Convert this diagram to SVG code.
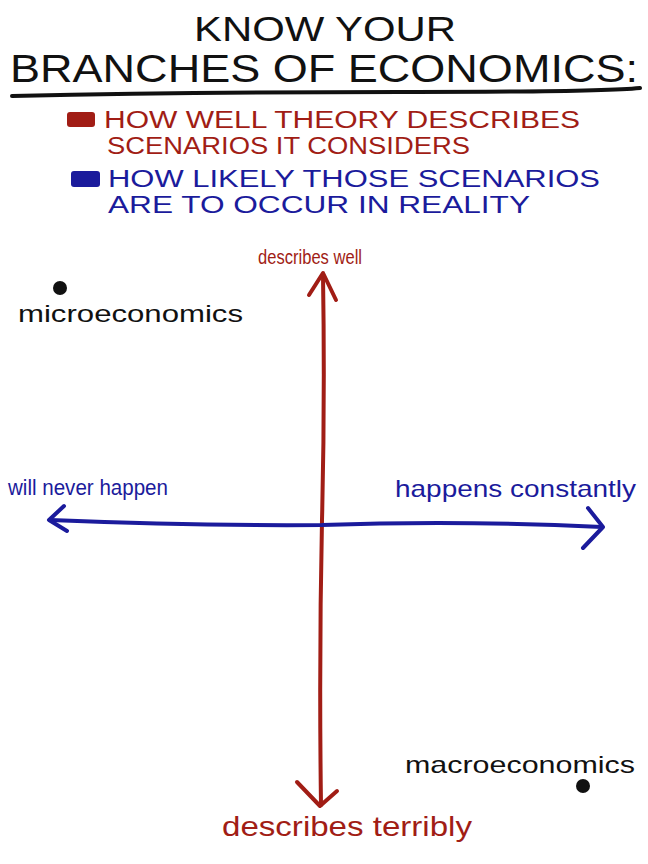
<svg xmlns="http://www.w3.org/2000/svg" width="648" height="864" viewBox="0 0 648 864">
<style>
.t{font-family:"Liberation Sans","DejaVu Sans",sans-serif}
.blk{fill:#111}
.red{fill:#a11d15}
.blu{fill:#1b1b9c}
.ln{fill:none;stroke-linecap:round;stroke-linejoin:round}
</style>
<rect width="648" height="864" fill="#fff"/>
<g id="title">
<text class="t blk" x="325" y="41" font-size="35" text-anchor="middle" textLength="262" lengthAdjust="spacingAndGlyphs">KNOW YOUR</text>
<text class="t blk" x="10" y="82" font-size="38" textLength="628" lengthAdjust="spacingAndGlyphs">BRANCHES OF ECONOMICS:</text>
<path class="ln" d="M12 96 Q200 92 400 92 T640 88" stroke="#111" stroke-width="4"/>
</g>
<g id="legend">
<rect x="67" y="112" width="28" height="15" rx="3" fill="#a11d15"/>
<text class="t red" x="104" y="128" font-size="23" textLength="476" lengthAdjust="spacingAndGlyphs">HOW WELL THEORY DESCRIBES</text>
<text class="t red" x="107" y="154" font-size="23" textLength="363" lengthAdjust="spacingAndGlyphs">SCENARIOS IT CONSIDERS</text>
<rect x="71" y="171" width="29" height="16" rx="3" fill="#1b1b9c"/>
<text class="t blu" x="108" y="187" font-size="23" textLength="492" lengthAdjust="spacingAndGlyphs">HOW LIKELY THOSE SCENARIOS</text>
<text class="t blu" x="108" y="213" font-size="23" textLength="422" lengthAdjust="spacingAndGlyphs">ARE TO OCCUR IN REALITY</text>
</g>
<g id="connectors">
<path class="ln" d="M323 275 Q325 400 322 520 Q319 660 321 805" stroke="#a11d15" stroke-width="4"/>
<path class="ln" d="M309 295 L323 273 L336 300" stroke="#a11d15" stroke-width="4"/>
<path class="ln" d="M297 782 L320 806 L337 791" stroke="#a11d15" stroke-width="4"/>
<path class="ln" d="M50 520 Q200 526 322 525 Q460 520 602 527" stroke="#1b1b9c" stroke-width="4"/>
<path class="ln" d="M64 506 L49 520 L67 531" stroke="#1b1b9c" stroke-width="4"/>
<path class="ln" d="M588 508 L603 527 L583 548" stroke="#1b1b9c" stroke-width="4"/>
</g>
<g id="describes-well">
<text class="t red" x="258" y="264" font-size="21" textLength="104" lengthAdjust="spacingAndGlyphs">describes well</text>
</g>
<g id="describes-terribly">
<text class="t red" x="222" y="836" font-size="28" textLength="250" lengthAdjust="spacingAndGlyphs">describes terribly</text>
</g>
<g id="will-never-happen">
<text class="t blu" x="8" y="495" font-size="22" textLength="160" lengthAdjust="spacingAndGlyphs">will never happen</text>
</g>
<g id="happens-constantly">
<text class="t blu" x="395" y="497" font-size="24" textLength="241" lengthAdjust="spacingAndGlyphs">happens constantly</text>
</g>
<g id="microeconomics">
<circle cx="60" cy="288" r="7" fill="#111"/>
<text class="t blk" x="18" y="322" font-size="24" textLength="225" lengthAdjust="spacingAndGlyphs">microeconomics</text>
</g>
<g id="macroeconomics">
<text class="t blk" x="405" y="773" font-size="24" textLength="230" lengthAdjust="spacingAndGlyphs">macroeconomics</text>
<circle cx="583" cy="786" r="7" fill="#111"/>
</g>
</svg>
